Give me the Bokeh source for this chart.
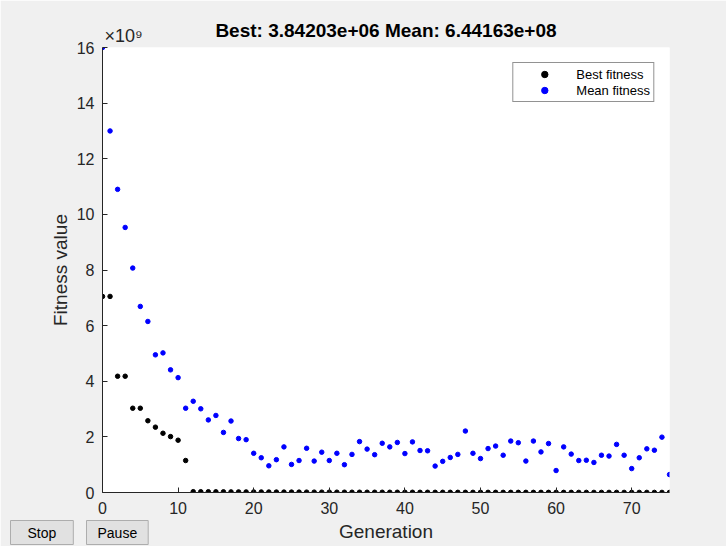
from bokeh.plotting import figure
from bokeh.models import FixedTicker, Legend, LegendItem, Range1d, Title
from bokeh.embed import file_html
from bokeh.resources import INLINE

generations = list(range(76))
# values in units of 1e9
best_fitness = [7.05, 7.05, 4.18, 4.18, 3.03, 3.03, 2.58, 2.35, 2.13, 2.01, 1.88, 1.15,
                0.030, 0.028, 0.026, 0.025, 0.024, 0.022, 0.021, 0.020, 0.019, 0.018,
                0.017, 0.016, 0.015, 0.015, 0.014, 0.013, 0.013, 0.012, 0.012, 0.011,
                0.011, 0.010, 0.010, 0.0095, 0.0092, 0.0090, 0.0087, 0.0085, 0.0082,
                0.0080, 0.0078, 0.0075, 0.0073, 0.0071, 0.0069, 0.0067, 0.0065, 0.0063,
                0.0061, 0.0059, 0.0057, 0.0055, 0.0054, 0.0052, 0.0051, 0.0050, 0.0049,
                0.0048, 0.0047, 0.0046, 0.0045, 0.0044, 0.0043, 0.0042, 0.0042, 0.0041,
                0.0040, 0.0040, 0.0039, 0.0039, 0.0039, 0.00385, 0.00384, 0.00384203]
mean_fitness = [16.0, 13.0, 10.9, 9.53, 8.07, 6.69, 6.15, 4.95, 5.02, 4.41, 4.13,
                3.03, 3.28, 3.01, 2.61, 2.77, 2.16, 2.57, 1.94, 1.90, 1.41, 1.25,
                0.96, 1.18, 1.64, 1.01, 1.15, 1.59, 1.13, 1.45, 1.15, 1.41, 1.00,
                1.37, 1.83, 1.56, 1.36, 1.77, 1.64, 1.80, 1.40, 1.82, 1.51, 1.50,
                0.95, 1.12, 1.26, 1.37, 2.21, 1.41, 1.22, 1.58, 1.67, 1.34, 1.85,
                1.79, 1.13, 1.85, 1.46, 1.76, 0.79, 1.64, 1.38, 1.15, 1.16, 1.08,
                1.34, 1.31, 1.73, 1.34, 0.86, 1.25, 1.57, 1.52, 1.99, 0.644163]
x_ticks = [0, 10, 20, 30, 40, 50, 60, 70]
y_ticks = [0, 2, 4, 6, 8, 10, 12, 14, 16]

FONT = "Liberation Sans"
AX = "#262626"

p = figure(width=726, height=546, output_backend="svg", toolbar_location=None,
           x_range=Range1d(0, 75), y_range=Range1d(0, 16),
           min_border_left=102, min_border_right=57, min_border_top=47, min_border_bottom=54)
p.border_fill_color = "#f0f0f0"
p.background_fill_color = "white"
p.outline_line_color = None
p.grid.visible = False

for ax in (p.xaxis[0], p.yaxis[0]):
    ax.axis_line_color = AX
    ax.major_tick_line_color = AX
    ax.major_tick_in = 5
    ax.major_tick_out = 0
    ax.minor_tick_line_color = None
    ax.major_label_text_font = FONT
    ax.major_label_text_font_size = "16px"
    ax.major_label_text_color = AX
    ax.axis_label_text_font = FONT
    ax.axis_label_text_font_size = "19px"
    ax.axis_label_text_font_style = "normal"
    ax.axis_label_text_color = AX

p.xaxis.ticker = FixedTicker(ticks=x_ticks)
p.yaxis.ticker = FixedTicker(ticks=y_ticks)
p.xaxis.axis_label = "Generation"
p.yaxis.axis_label = "Fitness value"
p.xaxis.major_label_standoff = 9
p.yaxis.major_label_standoff = 8
p.xaxis.axis_label_standoff = 4
p.yaxis.axis_label_standoff = 3

rb = p.scatter(generations, best_fitness, size=4.5, color="black", marker="circle")
rm = p.scatter(generations, mean_fitness, size=4.5, color="#0000ff", marker="circle")

legend = Legend(items=[LegendItem(label="Best fitness", renderers=[rb]),
                       LegendItem(label="Mean fitness", renderers=[rm])],
                location="top_right")
legend.margin = 15
legend.padding = 3
legend.spacing = 0
legend.glyph_width = 56
legend.glyph_height = 16
legend.label_height = 16
legend.label_standoff = 4
legend.label_text_font = FONT
legend.label_text_font_size = "13px"
legend.label_text_color = "black"
legend.border_line_color = AX
legend.border_line_width = 1
legend.background_fill_color = "white"
legend.background_fill_alpha = 1
p.add_layout(legend)

# exponent marker next to the y axis (nearest the frame in the top panel)
p.add_layout(Title(text="×10⁹", align="left", vertical_align="bottom", offset=2, standoff=4,
                   text_font=FONT, text_font_size="18px", text_font_style="normal",
                   text_color=AX), "above")
# main title (outermost in the top panel)
p.add_layout(Title(text="Best: 3.84203e+06 Mean: 6.44163e+08", align="center",
                   vertical_align="bottom", standoff=-39, text_font=FONT,
                   text_font_size="19px", text_font_style="bold", text_color="black"), "above")

# GUI buttons under the axis
p.add_layout(Title(text="Stop", align="left", vertical_align="top", offset=-92, standoff=-48,
                   text_font=FONT, text_font_size="14px", text_font_style="normal",
                   text_color="black", background_fill_color="#e1e1e1",
                   border_line_color="#adadad",
                   padding=dict(left=17, right=17, top=4, bottom=4)), "below")
p.add_layout(Title(text="Pause", align="left", vertical_align="top", offset=-16, standoff=-48,
                   text_font=FONT, text_font_size="14px", text_font_style="normal",
                   text_color="black", background_fill_color="#e1e1e1",
                   border_line_color="#adadad",
                   padding=dict(left=11, right=11, top=4, bottom=4)), "below")

open("out.html", "w").write(file_html(p, INLINE))
